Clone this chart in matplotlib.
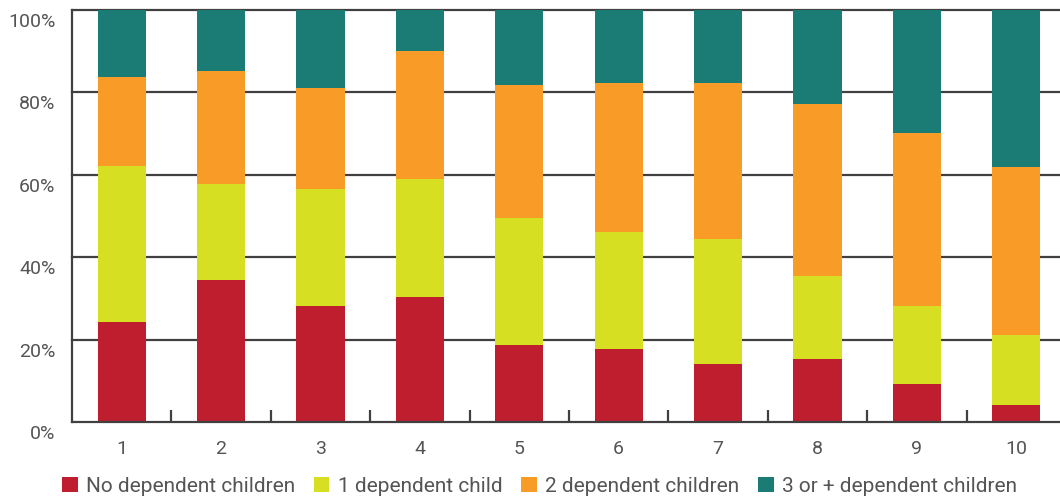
import matplotlib
matplotlib.use("Agg")
import matplotlib.pyplot as plt
import matplotlib.transforms as mtransforms
from matplotlib.patches import Patch
import numpy as np

categories = ["1", "2", "3", "4", "5", "6", "7", "8", "9", "10"]
no_children = [24.3, 34.5, 28.2, 30.3, 18.7, 17.7, 14.1, 15.3, 9.2, 4.1]
one_child = [37.8, 23.3, 28.4, 28.7, 30.8, 28.4, 30.3, 20.1, 19.0, 17.0]
two_children = [21.6, 27.4, 24.5, 31.0, 32.3, 36.2, 37.9, 41.8, 41.9, 40.8]
three_plus = [16.3, 14.8, 18.9, 10.0, 18.2, 17.7, 17.7, 22.8, 29.9, 38.1]

series = [
    ("No dependent children", no_children, "#BE1E2D"),
    ("1 dependent child", one_child, "#D7DF23"),
    ("2 dependent children", two_children, "#F89C27"),
    ("3 or + dependent children", three_plus, "#1B7B75"),
]
y_ticks = [0, 20, 40, 60, 80, 100]

plt.rcParams["font.family"] = ["Roboto", "DejaVu Sans"]
text_color = "#555555"
grid_color = "#404040"

fig = plt.figure(figsize=(10.60, 4.99), dpi=100)
ax = fig.add_axes([72 / 1060, 1 - 422 / 499, (1066 - 72) / 1060, (422 - 10) / 499])

x = np.arange(1, len(categories) + 1)
bottom = np.zeros(len(categories))
handles = []
for label, vals, color in series:
    ax.bar(x, vals, width=0.485, bottom=bottom, color=color, zorder=3, linewidth=0)
    bottom += np.array(vals)
    handles.append(Patch(facecolor=color, edgecolor="none", label=label))

ax.set_xlim(0.5, 10.5)
ax.set_ylim(0, 100)

for v in y_ticks[1:]:
    ax.axhline(v, color=grid_color, lw=1.6, zorder=1, clip_on=False)

for s in ["top", "right"]:
    ax.spines[s].set_visible(False)
ax.spines["left"].set_color(grid_color)
ax.spines["left"].set_linewidth(1.6)
ax.spines["bottom"].set_color(grid_color)
ax.spines["bottom"].set_linewidth(1.6)
ax.spines["bottom"].set_zorder(4)

ax.set_yticks(y_ticks)
ax.set_yticklabels([f"{v}%" for v in y_ticks])
ax.tick_params(axis="y", length=0, pad=12, labelsize=14, labelcolor=text_color)

ax.set_xticks(x)
ax.set_xticklabels(categories)
ax.tick_params(axis="x", length=0, pad=13, labelsize=14, labelcolor=text_color)
ax.set_xticks(np.arange(1.5, 10.5, 1.0), minor=True)
ax.tick_params(axis="x", which="minor", direction="in", length=9, width=1.6, color=grid_color)

# y labels sit a little below their gridlines
shift = mtransforms.ScaledTranslation(0, -10 / 100, fig.dpi_scale_trans)
for lbl in ax.get_yticklabels():
    lbl.set_transform(lbl.get_transform() + shift)

fig.legend(handles=handles, loc="center left", bbox_to_anchor=(62 / 1060, 1 - 486 / 499),
           ncol=4, frameon=False, fontsize=15, labelcolor=text_color,
           handlelength=0.75, handleheight=0.75, handletextpad=0.4, columnspacing=0.9,
           borderaxespad=0, borderpad=0)

fig.savefig("out.png", dpi=100)
